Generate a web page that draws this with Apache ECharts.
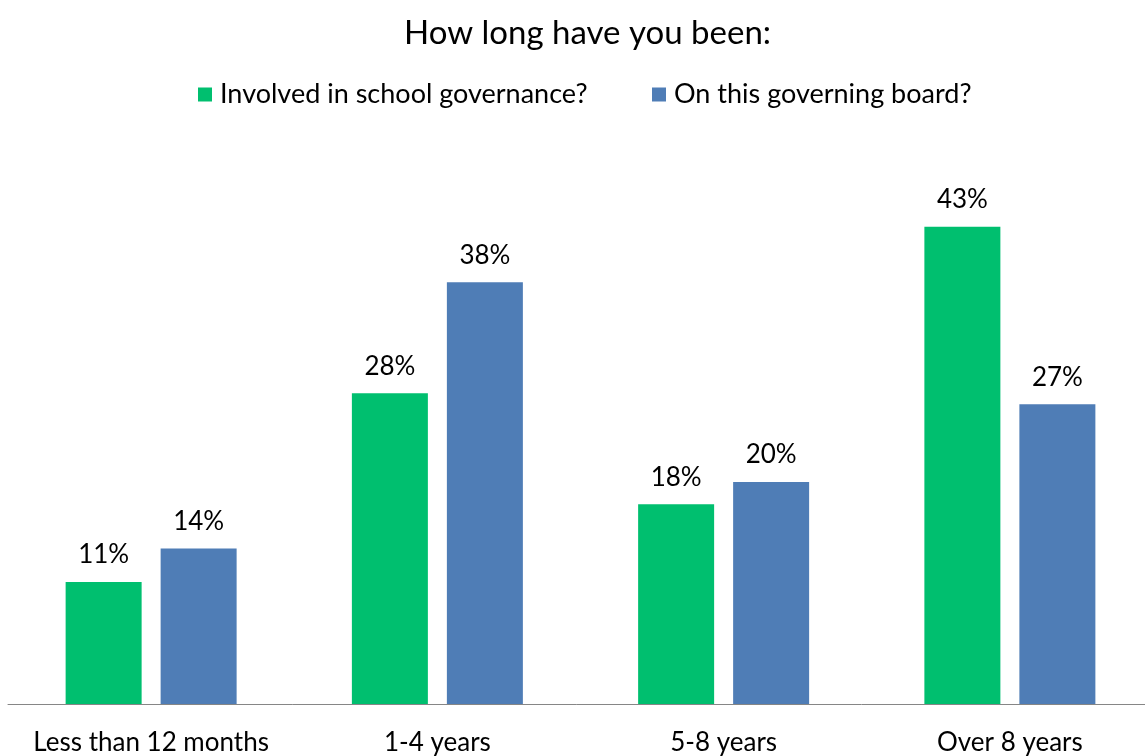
<!DOCTYPE html>
<html>
<head>
<meta charset="utf-8">
<script src="https://cdn.jsdelivr.net/npm/echarts@6/dist/echarts.min.js"></script>
<style>
  html, body { margin: 0; padding: 0; background: #fff; }
  #chart { width: 1145px; height: 756px; }
</style>
</head>
<body>
<div id="chart"></div>
<script>
// Tenure categories and the share of respondents in each
const categories = ['Less than 12 months', '1-4 years', '5-8 years', 'Over 8 years'];
const governanceShare = [11, 28, 18, 43];
const boardShare = [14, 38, 20, 27];
const seriesNames = ['Involved in school governance?', 'On this governing board?'];
const seriesColors = ['#00BF6F', '#4F7DB6'];

const FONT = 'Lato, "Open Sans", sans-serif';
const chart = echarts.init(document.getElementById('chart'));

const labelStyle = {
  show: true,
  position: 'top',
  distance: 14,
  formatter: p => p.value + '%',
  color: '#000',
  fontFamily: FONT,
  fontSize: 26
};

// one legend block per series so each entry sits at its own x
const legendLeft = [198, 652];
const legends = seriesNames.map((name, i) => ({
  left: legendLeft[i],
  top: 81,
  padding: 0,
  itemWidth: 14,
  itemHeight: 14,
  icon: 'rect',
  textStyle: { fontFamily: FONT, fontSize: 27, color: '#000', padding: [0, 0, 0, 3] },
  data: [name]
}));

chart.setOption({
  animation: false,
  title: {
    text: 'How long have you been:',
    left: 399,
    top: 12,
    textStyle: { fontFamily: FONT, fontSize: 33, fontWeight: 'normal', color: '#000' }
  },
  legend: legends,
  grid: { left: 8, width: 1145, top: 149, bottom: 52, containLabel: false, outerBoundsMode: 'none' },
  xAxis: {
    type: 'category',
    data: categories,
    axisLine: { lineStyle: { color: '#868686', width: 1 } },
    axisTick: { show: false },
    axisLabel: { interval: 0, color: '#000', fontFamily: FONT, fontSize: 26, margin: 26 }
  },
  yAxis: {
    type: 'value',
    min: 0,
    max: 50,
    show: false,
    splitLine: { show: false }
  },
  series: [
    {
      name: seriesNames[0],
      type: 'bar',
      data: governanceShare,
      barWidth: 76,
      barGap: '25%',
      itemStyle: { color: seriesColors[0] },
      label: labelStyle
    },
    {
      name: seriesNames[1],
      type: 'bar',
      data: boardShare,
      barWidth: 76,
      barGap: '25%',
      itemStyle: { color: seriesColors[1] },
      label: labelStyle
    }
  ]
});
</script>
</body>
</html>
